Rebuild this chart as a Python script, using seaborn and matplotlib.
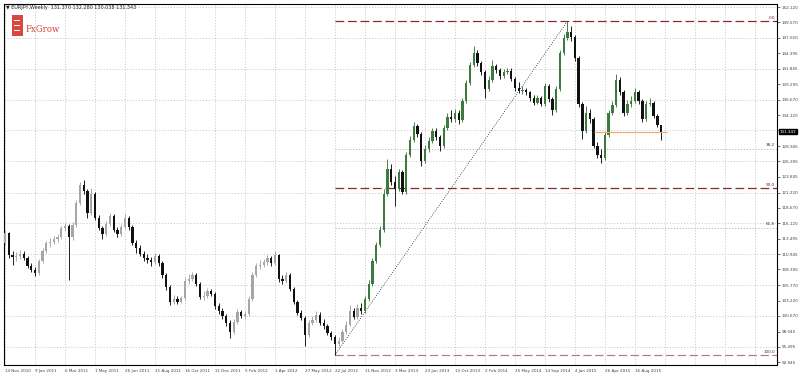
import numpy as np
import matplotlib
matplotlib.use("Agg")
import matplotlib.pyplot as plt
import matplotlib.transforms as mtransforms
from matplotlib import font_manager
from matplotlib.patches import Rectangle
import seaborn as sns

# ---------------- data (weekly EURJPY candles) ----------------
first_open = 112.8
close = [114.4, 110.8, 110.5, 110.7, 111.0, 110.3, 109.0, 108.3, 107.8, 109.8,
         111.5, 112.8, 113.0, 113.5, 113.8, 115.3, 115.6, 113.8, 115.8, 119.5,
         122.5, 121.5, 117.8, 121.0, 117.0, 115.3, 114.3, 116.0, 117.3, 115.0,
         114.3, 115.5, 117.0, 115.5, 112.8, 112.0, 111.0, 110.3, 110.0, 109.6,
         110.6, 109.5, 107.5, 105.5, 103.0, 103.5, 103.0, 103.6, 106.5, 106.8,
         107.4, 106.0, 103.8, 104.0, 104.8, 104.3, 102.3, 101.5, 100.6, 99.5,
         98.0, 99.6, 101.3, 100.7, 100.9, 103.5, 107.5, 108.9, 109.2, 109.6,
         110.3, 109.5, 110.8, 106.8, 106.5, 107.5, 105.2, 103.0, 101.2, 100.3,
         97.5, 99.5, 100.0, 100.8, 99.5, 99.0, 97.8, 97.2, 96.0, 96.5,
         98.0, 99.2, 101.5, 100.5, 102.0, 101.5, 103.5, 106.0, 109.8, 112.5,
         115.0, 121.0, 125.2, 123.0, 121.8, 124.6, 121.3, 127.5, 130.0, 132.3,
         131.0, 126.5, 128.5, 129.8, 131.5, 130.5, 128.9, 132.0, 133.8, 133.5,
         134.5, 133.3, 136.5, 139.5, 142.5, 144.5, 142.8, 141.3, 138.5, 140.0,
         142.3, 141.7, 140.6, 141.3, 141.5, 140.2, 138.6, 138.2, 138.3, 137.9,
         137.0, 136.2, 137.0, 136.0, 139.0, 136.8, 135.0, 138.5, 144.5, 147.0,
         148.0, 147.2, 143.7, 136.0, 131.5, 134.5, 133.5, 129.0, 127.5, 127.0,
         130.8, 134.5, 135.8, 140.0, 138.0, 134.5, 136.0, 136.5, 138.0, 136.5,
         133.5, 136.0, 136.2, 134.0, 132.5, 131.343]
high = [115.0, 114.6, 111.5, 111.3, 111.6, 111.4, 110.6, 109.4, 108.8, 110.2,
        111.9, 113.2, 113.6, 114.0, 114.3, 115.7, 116.1, 115.9, 116.3, 119.9,
        123.0, 123.3, 121.8, 121.9, 121.3, 117.4, 115.7, 116.4, 117.8, 117.6,
        115.4, 116.0, 117.6, 117.3, 115.8, 113.3, 112.4, 111.5, 110.9, 110.4,
        111.2, 111.0, 109.8, 107.8, 105.8, 104.2, 104.0, 104.0, 107.0, 107.6,
        108.0, 107.8, 106.3, 104.8, 105.3, 105.2, 104.6, 102.8, 101.9, 101.0,
        99.9, 100.2, 101.8, 101.6, 101.5, 103.9, 107.9, 109.4, 109.9, 110.2,
        110.8, 110.7, 111.4, 111.0, 107.4, 108.0, 107.8, 105.5, 103.3, 101.6,
        100.6, 100.0, 100.6, 101.4, 101.3, 100.2, 99.3, 98.1, 97.5, 97.2,
        98.5, 99.8, 102.4, 101.9, 102.6, 102.8, 104.0, 106.6, 110.3, 113.0,
        115.6, 121.8, 126.8, 126.0, 123.9, 125.2, 124.9, 128.0, 130.6, 133.0,
        132.6, 131.3, 129.1, 130.4, 132.0, 131.9, 130.8, 132.5, 134.4, 135.0,
        135.2, 134.9, 137.0, 140.0, 142.9, 145.6, 145.0, 143.1, 141.6, 140.6,
        143.3, 142.7, 142.0, 141.8, 142.0, 141.9, 140.5, 139.7, 138.9, 138.7,
        138.2, 137.4, 137.5, 137.3, 139.5, 139.3, 137.1, 139.0, 145.0, 147.6,
        149.8, 148.9, 147.5, 144.0, 136.3, 135.6, 135.2, 133.8, 129.6, 128.4,
        131.3, 135.0, 136.4, 141.0, 140.4, 138.3, 136.6, 137.3, 138.7, 138.3,
        136.8, 136.5, 136.9, 136.5, 134.3, 132.28]
low = [112.4, 110.3, 109.1, 109.8, 110.2, 109.9, 108.6, 107.9, 107.3, 107.5,
       109.5, 111.2, 112.2, 112.6, 113.0, 113.5, 114.8, 106.7, 113.3, 115.5,
       119.2, 121.0, 116.9, 117.5, 116.6, 115.0, 113.5, 114.0, 115.7, 114.6,
       113.8, 114.0, 115.2, 115.0, 112.4, 111.2, 110.6, 109.8, 109.4, 108.9,
       109.3, 109.0, 107.0, 105.0, 102.5, 102.6, 102.7, 102.8, 103.3, 106.0,
       106.4, 105.6, 103.4, 103.3, 103.7, 103.9, 101.8, 100.9, 100.2, 99.0,
       97.0, 97.6, 99.3, 100.3, 100.2, 100.6, 103.2, 107.2, 108.4, 108.8,
       109.2, 108.9, 109.2, 106.3, 106.0, 106.2, 104.8, 102.6, 100.8, 99.9,
       95.6, 97.2, 99.1, 99.6, 99.1, 98.5, 97.4, 96.6, 94.12, 95.5,
       96.2, 97.7, 98.9, 100.1, 100.2, 101.0, 101.2, 103.2, 105.7, 109.5,
       112.2, 114.7, 120.6, 122.4, 119.0, 121.4, 120.9, 121.0, 127.1, 129.7,
       130.4, 125.7, 126.1, 128.0, 129.4, 130.0, 128.2, 128.6, 131.6, 132.9,
       133.0, 132.6, 133.0, 136.2, 139.2, 142.2, 142.3, 140.8, 137.0, 138.2,
       139.7, 141.2, 140.1, 140.3, 140.9, 139.8, 138.2, 137.8, 137.6, 137.4,
       136.5, 135.8, 135.9, 135.6, 135.7, 136.3, 134.2, 134.7, 138.2, 144.2,
       146.6, 146.4, 143.2, 135.5, 130.2, 131.2, 132.8, 128.6, 127.0, 126.2,
       126.7, 130.5, 134.1, 135.5, 137.5, 134.0, 134.2, 135.5, 136.2, 136.0,
       132.9, 133.2, 135.6, 133.6, 132.1, 130.038]

date_labels = ["14 Nov 2010", "9 Jan 2011", "6 Mar 2011", "1 May 2011", "26 Jun 2011",
               "21 Aug 2011", "16 Oct 2011", "11 Dec 2011", "5 Feb 2012", "1 Apr 2012",
               "27 May 2012", "22 Jul 2012", "11 Nov 2012", "3 Mar 2013", "23 Jun 2013",
               "13 Oct 2013", "2 Feb 2014", "25 May 2014", "14 Sep 2014", "4 Jan 2015",
               "26 Apr 2015", "16 Aug 2015"]
price_labels = [92.945, 95.495, 98.045, 100.670, 103.220, 105.770, 108.395, 110.945,
                113.495, 116.120, 118.670, 121.220, 123.845, 126.395, 128.945, 131.570,
                134.120, 136.670, 139.295, 141.845, 144.395, 147.020, 149.570, 152.120]
fib_levels = [0.0, 38.2, 50.0, 61.8, 100.0]
fib_low, fib_high = 94.12, 149.78
fib_start, fib_end = 88, 150
header = "\u25BC EURJPY,Weekly  131.370 132.280 130.038 131.343"

# ---------------- drawing ----------------
sns.set_theme(style="white")
names = {f.name for f in font_manager.fontManager.ttflist}
small_font = "Liberation Sans Narrow" if "Liberation Sans Narrow" in names else "DejaVu Sans"
plt.rcParams['font.family'] = [small_font, 'DejaVu Sans']
fs = 3.6 if small_font != "DejaVu Sans" else 3.0

W, H = 800, 376
fig = plt.figure(figsize=(W / 100, H / 100), dpi=100)
ax = fig.add_axes([4 / W, 1 - 365 / H, 773 / W, 361 / H])

c = np.array(close)
hi = np.array(high)
lo = np.array(low)
o = np.r_[first_open, c[:-1]]
n = len(c)
idx = np.arange(n)
bull = c >= o

step = 8
tick_pos = np.arange(0, 206, step)
ax.set_xlim(-0.27, 205.9)
ax.set_ylim(92.47, 152.64)

# grid
for k, v in enumerate(price_labels):
    if k % 2 == 1:
        ax.axhline(v, color="#c8c8c8", lw=0.6, ls=(0, (1.5, 2)), zorder=0)
for t in tick_pos:
    ax.axvline(t, color="#c8c8c8", lw=0.6, ls=(0, (1.5, 2)), zorder=0)

# candle colours
cols = []
for i in range(n):
    if bull[i]:
        cols.append("#a6a6a6" if i < 96 else "#3d7a3d")
    else:
        cols.append("#111111")
ax.vlines(idx, lo, hi, colors=cols, lw=0.65, zorder=3)
body_lo = np.minimum(o, c)
body_h = np.maximum(np.abs(c - o), 0.12)
ax.bar(idx, body_h, bottom=body_lo, width=0.62, color=cols, linewidth=0, zorder=4)

# fibonacci levels
rng = fib_high - fib_low
for lv in fib_levels:
    price = fib_high - rng * lv / 100.0
    if lv in (0.0, 50.0):
        col, ls, lw = "#8c2a2a", (0, (7, 3)), 0.9
    elif lv == 100.0:
        col, ls, lw = "#b87878", (0, (7, 3)), 0.85
    else:
        col, ls, lw = "#b0b0b0", (0, (1.5, 2)), 0.6
    ax.hlines(price, fib_start, 205.9, colors=col, linestyles=ls, lw=lw, zorder=2)
    ax.text(205.3, price + 0.25, f"{lv:.1f}", ha="right", va="bottom",
            fontsize=fs, color="#6a2020")
sns.lineplot(x=[fib_start, fib_end], y=[fib_low, fib_high], ax=ax, color="#222222",
             lw=0.6, linestyle=(0, (1, 1.8)), zorder=2)

# last price line
ax.hlines(c[-1], 157, n + 0.5, colors="#f0a868", lw=0.8, zorder=5)

# axes styling
for s in ax.spines.values():
    s.set_color("#000000")
    s.set_linewidth(0.8)
ax.yaxis.tick_right()
ax.set_yticks(price_labels)
ax.set_yticklabels([f"{v:.3f}" for v in price_labels])
ax.set_xticks(tick_pos)
ax.set_xticklabels(date_labels + [""] * (len(tick_pos) - len(date_labels)), ha="left")
ax.tick_params(axis="both", labelsize=fs, colors="#333333", length=2, width=0.5, pad=1.2)
ax.tick_params(axis="y", labelcolor="#444444")
ax.tick_params(axis="x", labelcolor="#444444")
ax.set_xlabel("")
ax.set_ylabel("")

# current price tag on the axis
trans = mtransforms.blended_transform_factory(ax.transAxes, ax.transData)
ax.text(1.004, c[-1], f"{c[-1]:.3f}", transform=trans, ha="left", va="center",
        fontsize=fs, color="white",
        bbox=dict(boxstyle="square,pad=0.15", fc="black", ec="black"))

# header and logo
fig.text(6 / W, 1 - 7 / H, header, fontsize=3.5, va="center", ha="left", color="#222222",
         family=['DejaVu Sans'])
fig.patches.append(Rectangle((12 / W, 1 - 36 / H), 11 / W, 21 / H, transform=fig.transFigure,
                             fc="#d8473f", ec="none"))
for yy in (20, 25, 30):
    fig.patches.append(Rectangle((14 / W, 1 - (yy + 1.2) / H), 6 / W, 1.5 / H,
                                 transform=fig.transFigure, fc="white", ec="none"))
fig.text(26 / W, 1 - 29 / H, "FxGrow", fontsize=6.2, family="DejaVu Serif",
         color="#d8473f", va="center", ha="left")

fig.savefig("out.png", dpi=100)
